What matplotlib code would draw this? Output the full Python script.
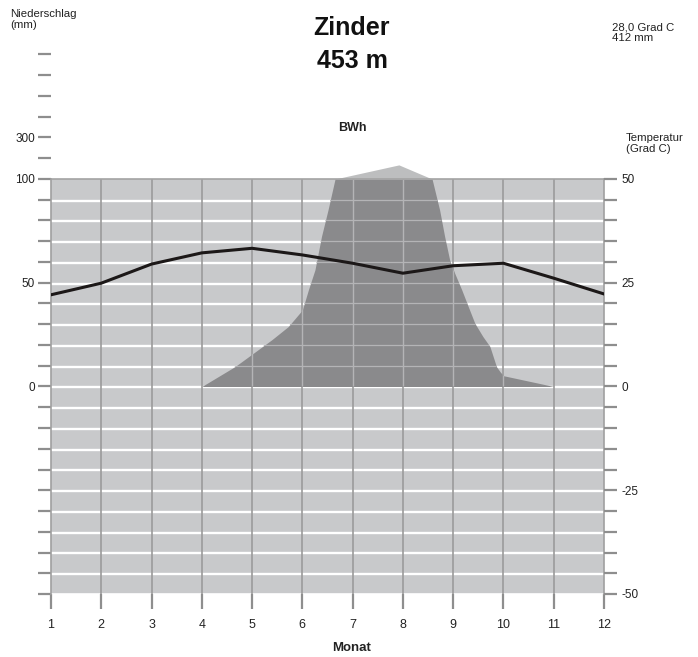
import numpy as np
import matplotlib.pyplot as plt

plt.rcParams['font.family'] = ['Liberation Sans', 'DejaVu Sans']

# monthly mean temperature (Grad C)
months = np.arange(1, 13)
temp_c = [22.1, 24.9, 29.5, 32.2, 33.3, 31.7, 29.7, 27.3, 29.1, 29.7, 26.1, 22.3]

# precipitation outline (month, mm)
precip_month = [4, 4.66, 5, 5.39, 5.72, 6, 6.12, 6.25, 6.38, 6.51, 6.65, 7.92,
                8.58, 8.73, 8.83, 8.93, 9.03, 9.17, 9.30, 9.43, 9.59, 9.73,
                9.86, 9.93, 10, 11]
precip_mm = [0, 9.6, 15.6, 22.5, 28.9, 36.9, 46.6, 56.2, 72.3, 85.1, 100, 168,
             100, 85.1, 72.3, 61.0, 54.6, 46.6, 38.5, 30.5, 24.1, 19.3,
             9.6, 7.2, 5.2, 0]

left_labels = {0: '0', 25: '50', 50: '100', 60: '300'}
right_labels = {50: '50', 25: '25', 0: '0', -25: '-25', -50: '-50'}

station = 'Zinder'
height = '453 m'
climate = 'BWh'
summary = '28,0 Grad C\n412 mm'

bg = '#c8c9cb'
dark = '#8a8a8c'
light_top = '#bdbebf'
tick_col = '#8e8e8e'
txt_col = '#222222'


def mm_to_scale(p):
    # 10 mm = 5 Grad up to 100 mm, above that 100 mm = 5 Grad
    p = np.asarray(p, dtype=float)
    return np.where(p <= 100, p / 2, 50 + (p - 100) / 20)


W, H = 698, 657
fig = plt.figure(figsize=(W / 100, H / 100), dpi=100)
ax = fig.add_axes([51 / W, 63 / H, 553 / W, 539.5 / H])
ax.set_xlim(1, 12)
ax.set_ylim(-50, 80)

# background + grid
ax.fill_between([1, 12], -50, 50, color=bg, lw=0, zorder=0)
for y in range(-45, 50, 5):
    ax.plot([1, 12], [y - 0.2, y - 0.2], color='white', lw=1.7, zorder=1)
ax.plot([1, 12], [-50, -50], color='white', lw=1.2, zorder=1)
ax.vlines(months[1:-1], -50, 50, color='#9b9b9b', lw=1.2, zorder=1)

# precipitation
pm = mm_to_scale(precip_mm)
wet = ax.fill_between(precip_month, 0, np.minimum(pm, 50), color=dark, lw=0, zorder=2)
ax.fill_between(precip_month, 50, pm, where=pm >= 50, color=light_top, lw=0, zorder=2)

clip = wet.get_paths()[0]
for y in range(5, 50, 5):
    ln, = ax.plot([1, 12], [y, y], color='#b4b4b6', lw=0.9, zorder=3)
    ln.set_clip_path(clip, ax.transData)
for m in months[1:-1]:
    ln, = ax.plot([m, m], [0, 50], color='#b4b4b6', lw=1.0, zorder=3)
    ln.set_clip_path(clip, ax.transData)

ax.plot([1, 12], [50, 50], color='#a3a3a3', lw=1.2, zorder=3)

# temperature
ax.plot(months, temp_c, color='#1c1818', lw=2.2, zorder=4)

# spines and ticks
for s in ['top', 'bottom']:
    ax.spines[s].set_visible(False)
for s in ['left', 'right']:
    ax.spines[s].set_bounds(-50, 50)
    ax.spines[s].set_color('#a0a0a0')
    ax.spines[s].set_linewidth(1.2)
    ax.spines[s].set_zorder(3)

yt = np.arange(-50, 81, 5)
ax.set_yticks(yt)
ax.set_yticklabels([left_labels.get(int(v), '') for v in yt])
ax.tick_params(axis='y', direction='out', length=9.5, width=1.6, color=tick_col,
               pad=2, labelsize=8.5, labelcolor=txt_col)

ax.set_xticks(months)
ax.set_xticklabels([str(m) for m in months])
ax.tick_params(axis='x', direction='out', length=11, width=1.6, color=tick_col,
               pad=7, labelsize=9, labelcolor=txt_col)

ax2 = ax.twinx()
ax2.set_ylim(-50, 80)
for s in ax2.spines.values():
    s.set_visible(False)
yt2 = np.arange(-50, 51, 5)
ax2.set_yticks(yt2)
ax2.set_yticklabels([right_labels.get(int(v), '') for v in yt2])
ax2.tick_params(axis='y', direction='out', length=9.5, width=1.6, color=tick_col,
                pad=3, labelsize=8.5, labelcolor=txt_col)


def px(x, y):
    return x / W, 1 - y / H


fig.text(*px(10, 9), 'Niederschlag\n(mm)', va='top', fontsize=8.2, linespacing=1.15, color=txt_col)
fig.text(*px(612, 22), summary, va='top', fontsize=8.2, linespacing=1.1, color=txt_col)
fig.text(*px(626, 133), 'Temperatur\n(Grad C)', va='top', fontsize=8.2, linespacing=1.15, color=txt_col)
fig.text(*px(352, 28), station, ha='center', va='center', fontsize=18, weight='bold', color='#111111')
fig.text(*px(352, 61), height, ha='center', va='center', fontsize=18, weight='bold', color='#111111')
fig.text(*px(352, 128), climate, ha='center', va='center', fontsize=9, weight='bold', color=txt_col)
fig.text(*px(352, 648), 'Monat', ha='center', va='center', fontsize=9.5, weight='bold', color=txt_col)

fig.savefig('out.png', dpi=100)
